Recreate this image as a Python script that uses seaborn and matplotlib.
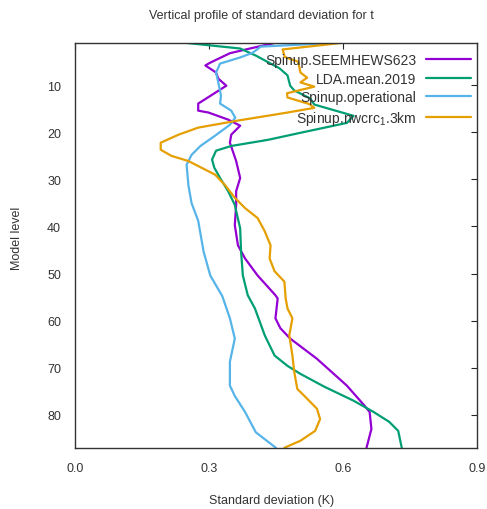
import numpy as np
import pandas as pd
import matplotlib
matplotlib.use("Agg")
import matplotlib.pyplot as plt
import seaborn as sns

# std dev profiles (level, value)
seem_lev = [1, 2.2, 3.2, 5.2, 5.8, 7.3, 8.6, 10.1, 13.9, 15.4, 15.8, 17.3, 18.6, 20.5, 22.2,
            26.1, 29.7, 32.5, 35.4, 39.7, 44.0, 46.8, 50.4, 54.6, 55.3, 59.5, 61.6, 63.8,
            68.1, 73.8, 78.1, 79.4, 83.0, 87]
seem_std = [0.448, 0.392, 0.347, 0.303, 0.292, 0.316, 0.321, 0.339, 0.276, 0.276, 0.299, 0.343,
            0.370, 0.350, 0.347, 0.361, 0.370, 0.361, 0.361, 0.358, 0.365, 0.381, 0.409, 0.449,
            0.454, 0.449, 0.460, 0.482, 0.542, 0.609, 0.649, 0.660, 0.664, 0.653]

lda_lev = [1, 2.2, 3.7, 6.4, 7.9, 10.1, 11.1, 12.8, 14.1, 16.5, 18.0, 20.1, 21.6, 22.9, 23.9,
           25.8, 27.5, 29.7, 32.5, 35.4, 36.7, 40.4, 45.3, 50.4, 54.6, 57.4, 63.1, 67.4, 69.6,
           71.3, 74.0, 77.0, 79.4, 81.5, 83.4, 87]
lda_std = [0.248, 0.370, 0.405, 0.458, 0.476, 0.482, 0.491, 0.527, 0.536, 0.624, 0.609, 0.505,
           0.432, 0.350, 0.316, 0.307, 0.312, 0.325, 0.343, 0.358, 0.361, 0.370, 0.372, 0.376,
           0.387, 0.403, 0.425, 0.447, 0.476, 0.505, 0.558, 0.624, 0.669, 0.704, 0.724, 0.732]

oper_lev = [1, 1.8, 3.1, 4.1, 5.4, 7.3, 9.4, 12.2, 13.9, 15.4, 16.9, 18.4, 20.7, 22.9, 24.8,
            26.9, 31.2, 35.0, 38.8, 45.3, 50.4, 54.8, 59.5, 63.8, 68.7, 73.8, 76.0, 79.4,
            83.7, 87]
oper_std = [0.582, 0.416, 0.398, 0.370, 0.325, 0.316, 0.321, 0.327, 0.325, 0.350, 0.359, 0.347,
            0.314, 0.281, 0.261, 0.250, 0.254, 0.261, 0.276, 0.288, 0.303, 0.330, 0.347, 0.358,
            0.347, 0.347, 0.358, 0.381, 0.405, 0.450]

nwc_lev = [1, 2.4, 4.0, 5.0, 7.3, 8.4, 9.4, 10.3, 11.7, 12.6, 14.0, 14.8, 15.8, 17.5, 19.0,
           20.5, 22.2, 23.7, 25.0, 26.1, 27.5, 29.0, 31.2, 33.9, 36.1, 38.2, 41.0, 44.0, 46.8,
           49.5, 51.7, 55.3, 57.4, 59.5, 63.1, 67.4, 70.8, 74.5, 76.0, 78.7, 80.9, 83.4, 85.5, 87]
nwc_std = [0.598, 0.465, 0.470, 0.500, 0.505, 0.520, 0.505, 0.536, 0.475, 0.476, 0.525, 0.536,
           0.476, 0.365, 0.276, 0.232, 0.192, 0.192, 0.216, 0.254, 0.283, 0.314, 0.336, 0.358,
           0.381, 0.409, 0.425, 0.438, 0.436, 0.447, 0.469, 0.472, 0.476, 0.487, 0.480, 0.487,
           0.491, 0.498, 0.514, 0.542, 0.549, 0.538, 0.505, 0.469]

names = ["Spinup.SEEMHEWS623", "LDA.mean.2019", "Spinup.operational", "Spinup.nwcrc$_1$.3km"]
colors = ["#9400D3", "#009E73", "#56B4E9", "#E69F00"]

frames = []
for name, lev, std in zip(names, [seem_lev, lda_lev, oper_lev, nwc_lev],
                          [seem_std, lda_std, oper_std, nwc_std]):
    frames.append(pd.DataFrame({"level": lev, "std": std, "exp": name}))
df = pd.concat(frames, ignore_index=True)

sns.set_style("white")
plt.rcParams["font.family"] = ["Liberation Sans", "DejaVu Sans"]
plt.rcParams["mathtext.fontset"] = "custom"
plt.rcParams["mathtext.rm"] = "Liberation Sans"

fig, ax = plt.subplots(figsize=(4.87, 5.10), dpi=100)
fig.subplots_adjust(left=0.154, right=0.979, bottom=0.12, top=0.914)

sns.lineplot(data=df, x="std", y="level", hue="exp", hue_order=names, palette=colors,
             sort=False, estimator=None, linewidth=1.6, ax=ax)

ax.set_xlim(0, 0.9)
ax.set_ylim(87, 1)
ax.set_xticks([0, 0.3, 0.6, 0.9])
ax.set_xticklabels(["0.0", "0.3", "0.6", "0.9"])
ax.set_yticks(range(10, 81, 10))
ax.tick_params(direction="in", length=4, width=0.8, top=True, right=True,
               labelsize=9, labelcolor="#333333", pad=10)
for s in ax.spines.values():
    s.set_color("#333333")
    s.set_linewidth(1)

ax.set_xlabel("Standard deviation (K)", fontsize=9, color="#333333")
ax.set_ylabel("Model level", fontsize=9, color="#333333")
ax.xaxis.set_label_coords(0.49, -0.115)
ax.yaxis.set_label_coords(-0.13, 0.52)
fig.text(0.536, 0.968, "Vertical profile of standard deviation for t", ha="center",
         va="center", fontsize=9, color="#333333")

leg = ax.legend(loc="upper right", bbox_to_anchor=(0.985, 0.975), frameon=False,
                markerfirst=False, fontsize=10, handlelength=3.2, handletextpad=0.7,
                labelspacing=0.33, borderaxespad=0, borderpad=0)
for t in leg.get_texts():
    t.set_color("#333333")

fig.savefig("out.png", dpi=100)
